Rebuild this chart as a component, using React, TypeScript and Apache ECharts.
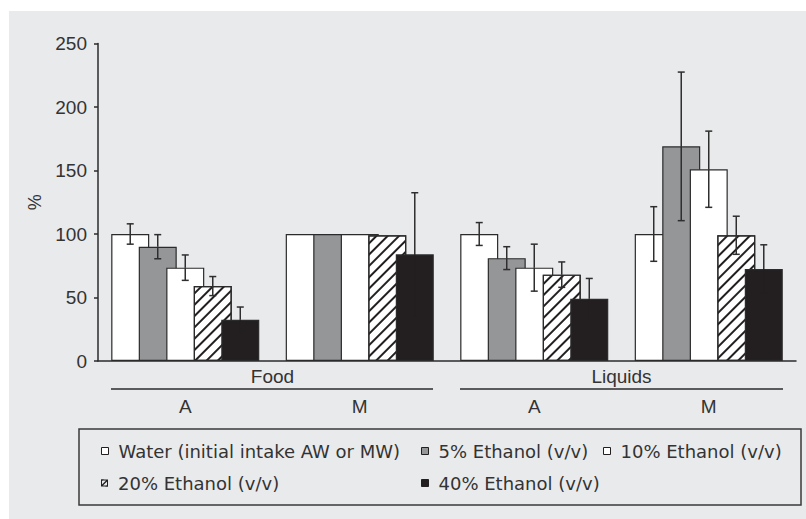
import React, { useEffect, useRef } from "react";
import * as echarts from "echarts";

// ---- data ----
const groupLabels = ["A", "M", "A", "M"];
const typeLabels = ["Food", "Liquids"];
const seriesNames = [
  "Water (initial intake AW or MW)",
  "5% Ethanol (v/v)",
  "10% Ethanol (v/v)",
  "20% Ethanol (v/v)",
  "40% Ethanol (v/v)",
];
const water = [100, 100, 100, 100];
const eth5 = [90, 100, 81, 169];
const eth10 = [73.5, 100, 73.5, 151];
const eth20 = [59, 99, 68, 99];
const eth40 = [32.5, 84, 49, 72.5];
const waterErr = [8, null, 9, 21.5];
const eth5Err = [9.5, null, 9, 58.5];
const eth10Err = [10, null, 18.5, 30];
const eth20Err = [7.5, null, 10, 15];
const eth40Err = [10, 48.5, 16, 19];
const yMin = 0;
const yMax = 250;
const yStep = 50;

const values = [water, eth5, eth10, eth20, eth40];
const errors = [waterErr, eth5Err, eth10Err, eth20Err, eth40Err];

// ---- styles ----
const FONT = "'Liberation Sans', Arial, sans-serif";
const LEGEND_FONT = "'DejaVu Sans', 'Liberation Sans', sans-serif";
const INK = "#231f20";
const TEXT = "#333333";
const BAR_W = 38;
const BAR_GAP = -0.276;
const BAR_STEP = BAR_W * (1 + BAR_GAP);

const fills = ["#ffffff", "#959698", "#ffffff", "#ffffff", INK];
const HATCH_ICON =
  "path://M0,0H10V10H0Z M1.4,1.4V8.6H8.6V1.4Z M7.2,1.4L8.6,1.4L8.6,2.8L2.8,8.6L1.4,8.6L1.4,7.2Z";

export default function App() {
  const ref = useRef<HTMLDivElement>(null);
  useEffect(() => {
    if (!ref.current) return;
    const chart = echarts.init(ref.current, undefined, { renderer: "svg" });

    const barSeries = values.map((vals, k) => ({
      type: "bar",
      name: seriesNames[k],
      xAxisIndex: 0,
      yAxisIndex: 0,
      data: vals,
      barWidth: BAR_W,
      barGap: `${BAR_GAP * 100}%`,
      z: 2,
      itemStyle: {
        color: fills[k],
        borderColor: "#2b2b2b",
        borderWidth: 1.2,
        ...(k === 3
          ? {
              decal: {
                symbol: "rect",
                symbolSize: 1,
                color: INK,
                dashArrayX: [1, 0],
                dashArrayY: [1.3, 5.6],
                rotation: -Math.PI / 4,
              },
            }
          : {}),
      },
      emphasis: { disabled: true },
    }));

    const errSeries = errors.map((errs, k) => {
      const data: number[][] = [];
      errs.forEach((e, i) => {
        if (e != null) data.push([i, values[k][i] - e, values[k][i] + e]);
      });
      const offset = (k - 2) * BAR_STEP;
      const darkBar = k === 4;
      return {
        type: "custom",
        xAxisIndex: 0,
        yAxisIndex: 0,
        z: 5,
        silent: true,
        data,
        encode: { x: 0, y: [1, 2] },
        renderItem: (_p: any, api: any) => {
          const cat = api.value(0);
          const lo = api.coord([cat, api.value(1)]);
          const mid = api.coord([cat, values[k][cat]]);
          const hi = api.coord([cat, api.value(2)]);
          const x = lo[0] + offset;
          const st = { stroke: "#2e2e2e", lineWidth: 1.5 };
          const stLow = darkBar ? { stroke: INK, lineWidth: 1.5 } : st;
          return {
            type: "group",
            children: [
              { type: "line", shape: { x1: x, y1: mid[1], x2: x, y2: hi[1] }, style: st },
              { type: "line", shape: { x1: x, y1: lo[1], x2: x, y2: mid[1] }, style: stLow },
              { type: "line", shape: { x1: x - 3.5, y1: hi[1], x2: x + 3.5, y2: hi[1] }, style: st },
              { type: "line", shape: { x1: x - 3.5, y1: lo[1], x2: x + 3.5, y2: lo[1] }, style: stLow },
            ],
          };
        },
      };
    });

    const legendPos = [
      [101, 442],
      [421, 442],
      [603, 442],
      [101, 474],
      [421, 474],
    ];

    chart.setOption({
      animation: false,
      backgroundColor: "transparent",
      textStyle: { fontFamily: FONT },
      grid: { left: 98, right: 10, top: 43.5, bottom: 158, containLabel: false },
      xAxis: [
        {
          type: "category",
          data: groupLabels,
          position: "bottom",
          axisLine: { show: true, lineStyle: { color: "#2b2b2b", width: 1.5 } },
          axisTick: { show: false },
          axisLabel: { fontSize: 19, color: TEXT, margin: 36, fontFamily: FONT },
          splitLine: { show: false },
        },
        {
          type: "category",
          data: typeLabels,
          position: "bottom",
          axisLine: { show: false },
          axisTick: { show: false },
          axisLabel: { fontSize: 19, color: TEXT, margin: 6, fontFamily: FONT },
          splitLine: { show: false },
        },
      ],
      yAxis: {
        type: "value",
        min: yMin,
        max: yMax,
        interval: yStep,
        name: "%",
        nameLocation: "middle",
        nameRotate: 90,
        nameGap: 46,
        nameTextStyle: { fontSize: 18, color: TEXT, fontFamily: FONT },
        axisLine: { show: true, lineStyle: { color: "#2b2b2b", width: 1.5 } },
        axisTick: { show: true, length: 4, lineStyle: { color: "#2b2b2b", width: 1.5 } },
        axisLabel: { fontSize: 19, color: TEXT, margin: 11, fontFamily: FONT },
        splitLine: { show: false },
      },
      legend: seriesNames.map((n, i) => ({
        data:
          i === 3
            ? [{ name: n, icon: HATCH_ICON, itemStyle: { color: INK, borderWidth: 0 } }]
            : [n],
        left: legendPos[i][0],
        top: legendPos[i][1],
        padding: 0,
        itemWidth: 7,
        itemHeight: 7,
        icon: "rect",
        selectedMode: false,
        itemStyle: { borderColor: INK, borderWidth: 1 },
        textStyle: { fontSize: 18, color: TEXT, fontFamily: LEGEND_FONT, padding: [0, 0, 0, 5] },
      })),
      graphic: {
        elements: [
          { type: "line", shape: { x1: 111, y1: 389, x2: 433, y2: 389 }, style: { stroke: "#2b2b2b", lineWidth: 1.5 } },
          { type: "line", shape: { x1: 460, y1: 389, x2: 783, y2: 389 }, style: { stroke: "#2b2b2b", lineWidth: 1.5 } },
          {
            type: "rect",
            shape: { x: 79, y: 429, width: 722, height: 76 },
            style: { fill: "none", stroke: "#3a3a3a", lineWidth: 1.5 },
          },
        ],
      },
      series: [...barSeries, ...errSeries],
    });
    return () => chart.dispose();
  }, []);

  return (
    <div style={{ position: "fixed", left: 0, top: 0, width: 806, height: 519, background: "#ffffff" }}>
      <div style={{ position: "absolute", left: 9, top: 11, width: 797, height: 508, background: "#e9eaec" }} />
      <div ref={ref} style={{ position: "absolute", left: 0, top: 0, width: 806, height: 519 }} />
    </div>
  );
}
